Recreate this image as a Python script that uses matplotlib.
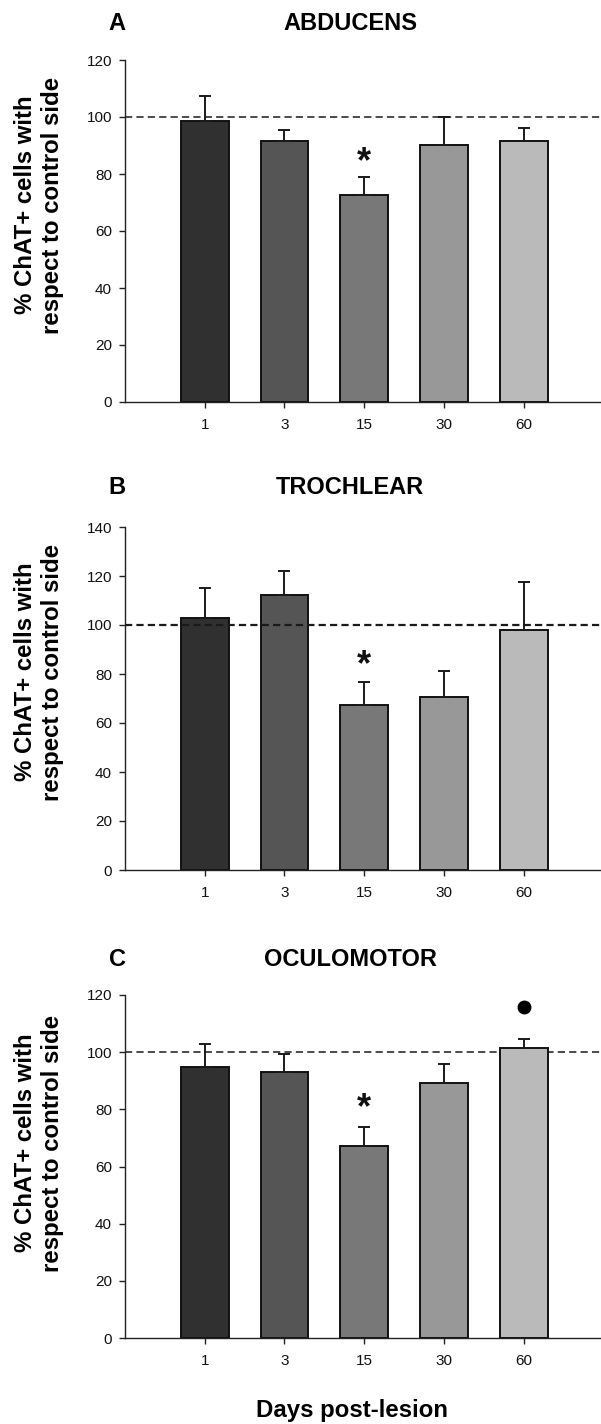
import matplotlib
matplotlib.use("Agg")
import matplotlib.pyplot as plt
import numpy as np

plt.rcParams['font.family'] = ['Liberation Sans', 'DejaVu Sans']
plt.rcParams['lines.scale_dashes'] = False

days = ["1", "3", "15", "30", "60"]
colors = ["#303030", "#555555", "#787878", "#989898", "#bababa"]

titles = ["ABDUCENS", "TROCHLEAR", "OCULOMOTOR"]
letters = ["A", "B", "C"]

abducens_mean = [98.7, 91.7, 72.6, 90.3, 91.5]
abducens_err = [107.3, 95.6, 79.0, 99.9, 96.2]
trochlear_mean = [102.8, 112.1, 67.4, 70.5, 97.8]
trochlear_err = [114.9, 122.0, 76.9, 81.2, 117.7]
oculomotor_mean = [94.7, 93.0, 67.0, 89.2, 101.6]
oculomotor_err = [102.8, 99.5, 73.7, 95.7, 104.6]

ymax = [120, 140, 120]
star_y = [87.7, 87.8, 83.9]
dot_y = 115.8

means = [abducens_mean, trochlear_mean, oculomotor_mean]
tops = [abducens_err, trochlear_err, oculomotor_err]

W, H = 601, 1424
fig = plt.figure(figsize=(W / 100, H / 100), dpi=100)

# axes pixel boxes: (top, bottom)
boxes = [(60, 402), (527, 870), (995, 1338)]
ylabel_cy = [205, 672, 1143]
title_y = [23, 487, 959]
left_px, right_px = 125, 601

x = np.arange(len(days))
for i in range(3):
    top, bot = boxes[i]
    ax = fig.add_axes([left_px / W, 1 - bot / H, (right_px - left_px) / W, (bot - top) / H])
    m = np.array(means[i])
    t = np.array(tops[i])
    dash_lw = 1.1 if i != 1 else 1.6
    ax.axhline(100, color="#1a1a1a", lw=dash_lw, linestyle=(0, (5.2, 3.0)),
               zorder=4 if i == 1 else 1)
    ax.bar(x, m, width=0.6, color=colors, edgecolor="#111111", linewidth=1.4, zorder=2)
    ax.errorbar(x, m, yerr=[np.zeros_like(m), t - m], fmt="none", ecolor="#1a1a1a",
                elinewidth=1.4, capsize=4.3, capthick=1.4, zorder=3)
    ax.set_xlim(-1.0, 4.97)
    ax.set_ylim(0, ymax[i])
    ax.set_yticks(np.arange(0, ymax[i] + 1, 20))
    ax.set_xticks(x)
    ax.set_xticklabels(days)
    for s in ["top", "right"]:
        ax.spines[s].set_visible(False)
    for s in ["left", "bottom"]:
        ax.spines[s].set_linewidth(1.0)
        ax.spines[s].set_color("#222222")
    ax.tick_params(axis="both", direction="out", length=4.3, width=1.0, color="#222222",
                   labelsize=11, labelcolor="#111111")
    ax.tick_params(axis="y", pad=5)
    ax.tick_params(axis="x", pad=7)
    # significance star (glyph visual centre placed at star_y)
    ax.annotate("*", xy=(2, star_y[i]), xytext=(0, -14.5), textcoords="offset points",
                ha="center", va="baseline", fontsize=26, fontweight="bold",
                color="#111111", zorder=5)
    if i == 2:
        ax.plot([4], [dot_y], marker="o", markersize=9, color="#000000", zorder=5)
    # titles
    fig.text(117 / W, 1 - title_y[i] / H, letters[i], ha="center", va="center",
             fontsize=17, fontweight="bold")
    fig.text(350 / W, 1 - title_y[i] / H, titles[i], ha="center", va="center",
             fontsize=17, fontweight="bold")
    fig.text(39 / W, 1 - ylabel_cy[i] / H, "% ChAT+ cells with\nrespect to control side",
             rotation=90, ha="center", va="center", fontsize=17.3, fontweight="bold",
             linespacing=1.2, multialignment="center")

fig.text(352 / W, 1 - 1410 / H, "Days post-lesion", ha="center", va="center",
         fontsize=17.3, fontweight="bold")

fig.savefig("out.png", dpi=100)
